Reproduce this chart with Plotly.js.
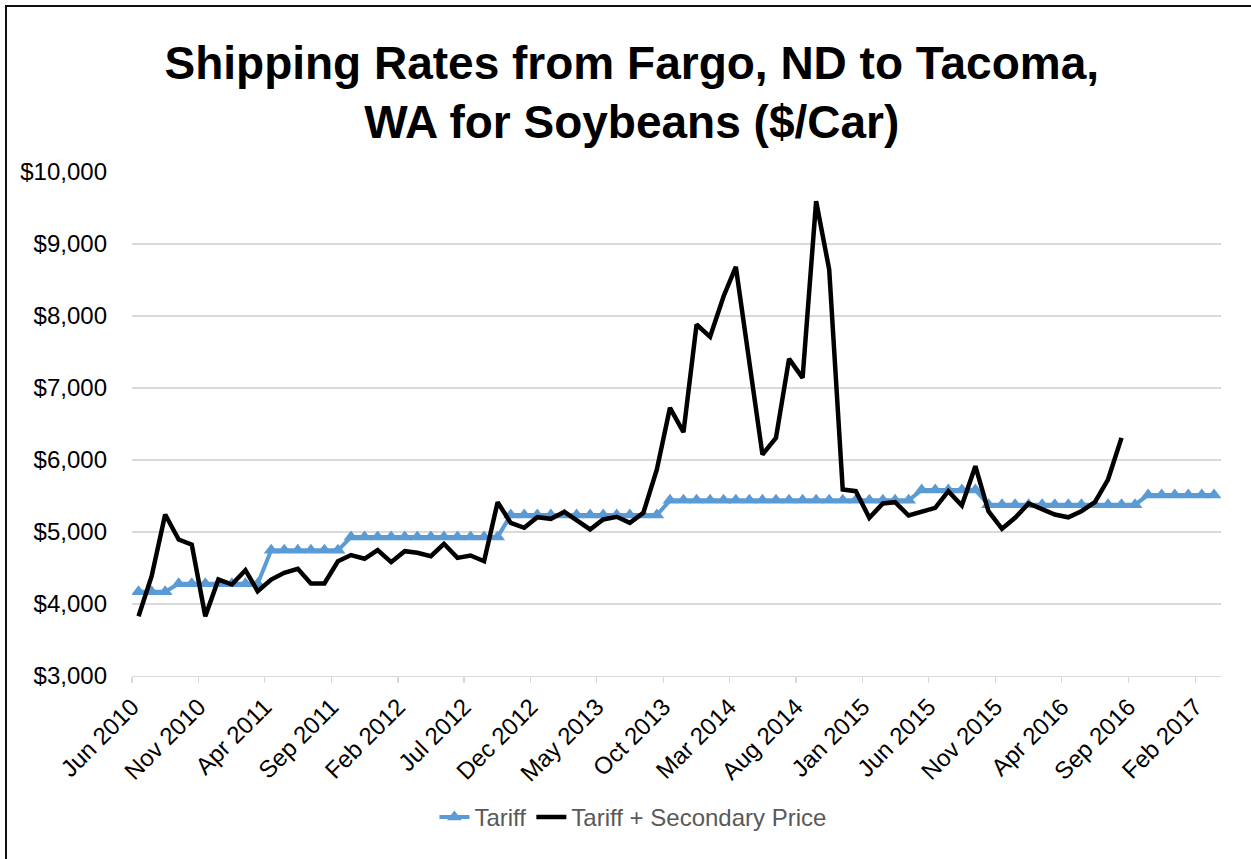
<!DOCTYPE html>
<html>
<head>
<meta charset="utf-8">
<script src="https://cdn.plot.ly/plotly-3.0.1.min.js"></script>
<style>
  html, body { margin: 0; padding: 0; background: #ffffff; overflow: hidden; }
  #wrap { position: relative; width: 1251px; height: 859px; }
  #chart { width: 1251px; height: 859px; }
  #frame {
    position: absolute; left: 5px; top: 5px; width: 1400px; height: 1000px;
    border-left: 2px solid #111; border-top: 2px solid #111; pointer-events: none;
  }
</style>
</head>
<body>
<div id="wrap">
  <div id="chart"></div>
  <div id="frame"></div>
</div>
<script>
// Monthly series starting June 2010
const firstYear = 2010;
const firstMonth = 6;   // June

// Tariff rate, $/car, Jun 2010 - Mar 2017
const tariff = [
  4170, 4170, 4170,
  4280, 4280, 4280, 4280, 4280, 4280, 4280,
  4745, 4745, 4745, 4745, 4745, 4745,
  4930, 4930, 4930, 4930, 4930, 4930, 4930, 4930, 4930, 4930, 4930, 4930,
  5235, 5235, 5235, 5235, 5235, 5235, 5235, 5235, 5235, 5235, 5235, 5235,
  5440, 5440, 5440, 5440, 5440, 5440, 5440, 5440, 5440, 5440,
  5440, 5440, 5440, 5440, 5440, 5440, 5440, 5440, 5440,
  5585, 5585, 5585, 5585, 5585,
  5380, 5380, 5380, 5380, 5380, 5380, 5380, 5380, 5380, 5380, 5380, 5380,
  5515, 5515, 5515, 5515, 5515, 5515
];

// Tariff plus secondary-market price, $/car, Jun 2010 - Aug 2016
const tariffPlusSecondary = [
  3830, 4386, 5243, 4896, 4826, 3830, 4340, 4271, 4470, 4178,
  4340, 4433, 4489, 4285, 4285, 4594, 4680, 4628, 4748, 4581,
  4734, 4711, 4664, 4836, 4641, 4674, 4594, 5414, 5127, 5058,
  5206, 5183, 5280, 5164, 5035, 5174, 5211, 5127, 5266, 5868,
  6725, 6386, 7882, 7711, 8275, 8683, 7396, 6076, 6308, 7405,
  7141, 9594, 8646, 5590, 5567, 5197, 5396, 5414, 5229, 5275,
  5336, 5567, 5368, 5914, 5289, 5044, 5197, 5396, 5322, 5243,
  5204, 5289, 5414, 5729, 6308
];

// Mid-month date for the i-th month of the series
function monthDate(i) {
  const m0 = firstMonth - 1 + i;
  const y = firstYear + Math.floor(m0 / 12);
  const m = (m0 % 12) + 1;
  return y + '-' + String(m).padStart(2, '0') + '-16';
}
const months = tariff.map((_, i) => monthDate(i));

const FONT = '"Liberation Sans", Arial, Helvetica, sans-serif';

const traces = [
  {
    name: 'Tariff',
    x: months,
    y: tariff,
    type: 'scatter',
    mode: 'lines+markers',
    line: { color: '#5b9bd5', width: 4 },
    marker: { symbol: 'triangle-up', size: 13, color: '#5b9bd5' }
  },
  {
    name: 'Tariff + Secondary Price',
    x: months.slice(0, tariffPlusSecondary.length),
    y: tariffPlusSecondary,
    type: 'scatter',
    mode: 'lines',
    line: { color: '#000000', width: 4.5 }
  }
];

const layout = {
  width: 1251,
  height: 859,
  paper_bgcolor: '#ffffff',
  plot_bgcolor: '#ffffff',
  font: { family: FONT, color: '#000000' },
  margin: { l: 132, r: 30, t: 172, b: 183 },
  title: {
    text: '<b>Shipping Rates from Fargo, ND to Tacoma,<br>WA for Soybeans ($/Car)</b>',
    font: { family: FONT, size: 46, color: '#000000' },
    x: 0.505, xref: 'container', xanchor: 'center',
    y: 0.9086, yref: 'container', yanchor: 'top'
  },
  xaxis: {
    type: 'date',
    range: ['2010-06-01', '2017-04-01'],
    tick0: '2010-06-01',
    dtick: 'M5',
    tickformat: '%b %Y',
    tickangle: -45,
    tickfont: { family: FONT, size: 24, color: '#000000' },
    ticks: 'outside',
    ticklen: 6,
    tickwidth: 1.3,
    tickcolor: '#d9d9d9',
    showline: true,
    linecolor: '#d9d9d9',
    linewidth: 1.3,
    showgrid: false,
    zeroline: false
  },
  yaxis: {
    range: [3000, 10000],
    dtick: 1000,
    tickprefix: '$',
    tickformat: ',d',
    tickfont: { family: FONT, size: 24, color: '#000000' },
    ticklabelstandoff: 24,
    showgrid: true,
    gridcolor: '#d9d9d9',
    gridwidth: 1.3,
    zeroline: false,
    showline: false
  },
  showlegend: true,
  legend: {
    orientation: 'h',
    x: 0.46, xanchor: 'center',
    y: -0.2805, yanchor: 'middle',
    font: { family: FONT, size: 24, color: '#595959' }
  }
};

Plotly.newPlot('chart', traces, layout, { staticPlot: true, displayModeBar: false });
</script>
</body>
</html>
